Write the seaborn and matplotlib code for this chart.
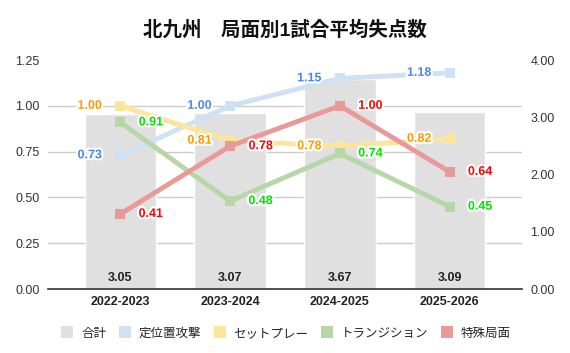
import matplotlib
matplotlib.use("Agg")
import matplotlib.pyplot as plt
import seaborn as sns
import pandas as pd
from matplotlib.ticker import MultipleLocator, FixedLocator
from matplotlib.lines import Line2D
import matplotlib.patheffects as pe

seasons = ["2022-2023", "2023-2024", "2024-2025", "2025-2026"]
total = [3.05, 3.07, 3.67, 3.09]
positional = [0.73, 1.00, 1.15, 1.18]
setpiece = [1.00, 0.81, 0.78, 0.82]
transition = [0.91, 0.48, 0.74, 0.45]
special = [0.41, 0.78, 1.00, 0.64]

series_names = ["定位置攻撃", "セットプレー", "トランジション", "特殊局面"]
series_vals = [positional, setpiece, transition, special]
line_colors = ["#cfe2f3", "#ffe599", "#b6d7a8", "#ea9999"]
label_colors = ["#4a86e8", "#ff9900", "#00e600", "#ff0000"]
label_side = [-1, -1, 1, 1]
bar_color = "#e0e0e0"

sns.set_theme(style="white")
plt.rcParams["font.family"] = ["Liberation Sans", "Noto Sans CJK JP", "DejaVu Sans"]

fig = plt.figure(figsize=(5.7, 3.53), dpi=100)
ax = fig.add_axes([0.084, 0.181, 0.832, 0.649])
ax2 = ax.twinx()

# bars on right axis
sns.barplot(x=seasons, y=total, ax=ax2, color=bar_color, width=0.65,
            saturation=1, errorbar=None, zorder=2)
ax2.set_ylim(0, 4)
ax2.yaxis.set_major_locator(MultipleLocator(1))
ax2.yaxis.set_major_formatter(matplotlib.ticker.FormatStrFormatter("%.2f"))
ax2.yaxis.set_minor_locator(FixedLocator([0.8 * k for k in range(1, 6)]))
ax2.grid(which="minor", axis="y", color="#cccccc", linewidth=1, zorder=0)
ax2.grid(which="major", axis="y", visible=False)
ax2.set_axisbelow(True)
for i, v in enumerate(total):
    ax2.annotate(f"{v:.2f}", (i, 0), xytext=(0, 8), textcoords="offset points",
                 ha="center", va="center", fontsize=9, fontweight="bold", color="#222222")

# lines on left axis
for name, vals, c, lc, side in zip(series_names, series_vals, line_colors, label_colors, label_side):
    sns.pointplot(x=seasons, y=vals, ax=ax, color=c, markers="s", markersize=7,
                  linewidth=3.5, errorbar=None, markeredgewidth=0)
    for i, v in enumerate(vals):
        ax.annotate(f"{v:.2f}", (i, v), xytext=(side * 22, 0), textcoords="offset points",
                    ha="center", va="center", fontsize=9, fontweight="bold", color=lc,
                    path_effects=[pe.withStroke(linewidth=3, foreground="white")], zorder=10)

ax.set_ylim(0, 1.25)
ax.yaxis.set_major_locator(MultipleLocator(0.25))
ax.yaxis.set_major_formatter(matplotlib.ticker.FormatStrFormatter("%.2f"))
ax.set_zorder(ax2.get_zorder() + 1)
ax.patch.set_visible(False)
ax.grid(False)
ax.set_xlim(-0.66, 3.66)
ax2.set_xlim(-0.66, 3.66)
ax.set_xlabel("")
ax.set_ylabel("")
ax2.set_ylabel("")

for a in (ax, ax2):
    for s in ["top", "left", "right", "bottom"]:
        a.spines[s].set_visible(False)
ax.spines["bottom"].set_visible(True)
ax.spines["bottom"].set_color("#333333")
ax.spines["bottom"].set_linewidth(1.2)

ax.tick_params(axis="y", length=0, labelsize=9, labelcolor="#333333", pad=6)
ax2.tick_params(axis="y", which="both", length=0, labelsize=9, labelcolor="#333333", pad=6)
ax.tick_params(axis="x", length=0, labelsize=9, labelcolor="#222222", pad=5)
for t in ax.get_xticklabels():
    t.set_fontweight("bold")
ax2.tick_params(axis="x", length=0, labelbottom=False)

fig.text(0.5, 0.915, "北九州　局面別1試合平均失点数", ha="center", va="center",
         fontsize=14, fontweight="bold", color="#111111")

handles = [Line2D([], [], marker="s", linestyle="", markersize=9, markeredgewidth=0,
                  color=c) for c in [bar_color] + line_colors]
fig.legend(handles, ["合計"] + series_names, loc="center", bbox_to_anchor=(0.502, 0.055),
           ncol=5, frameon=False, fontsize=9, handletextpad=0.6, columnspacing=1.0,
           handlelength=1.0)

fig.savefig("out.png", dpi=100)
